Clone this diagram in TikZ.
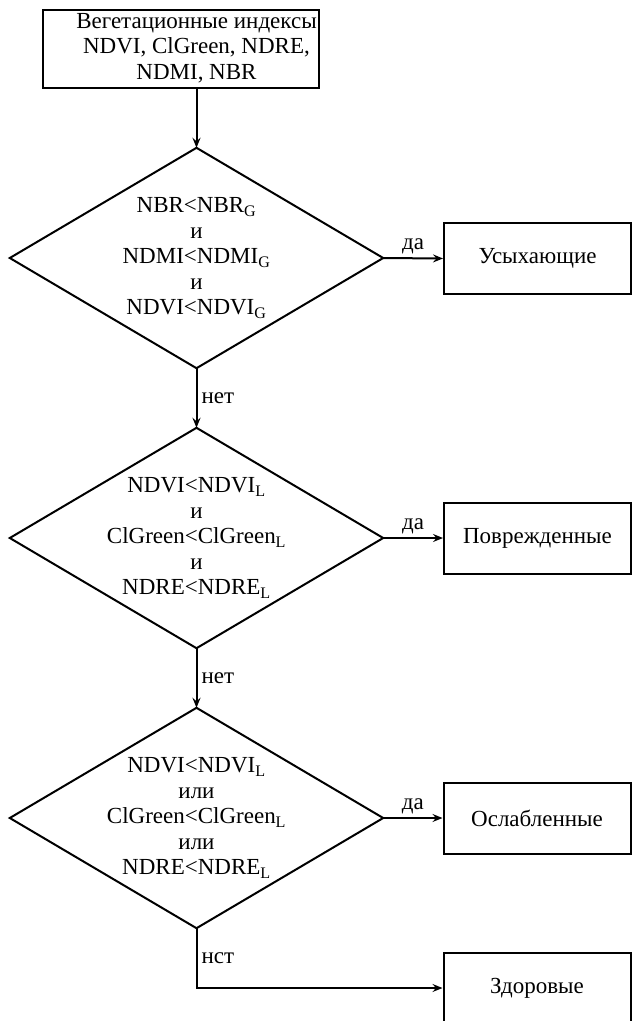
\documentclass[tikz,border=0pt]{standalone}
\usepackage{fontspec}
\setmainfont{Liberation Serif}
\usetikzlibrary{arrows.meta}
\begin{document}
\begin{tikzpicture}[x=1pt,y=-1pt,
 every node/.style={font=\fontsize{23}{25.5}\selectfont},
 box/.style={draw, line width=2pt, inner sep=0pt, align=center},
 res/.style={box, minimum width=187pt, minimum height=71pt},
 cond/.style={inner sep=0pt, align=center, minimum width=373pt, minimum height=220pt},
 lbl/.style={inner sep=0pt},
 conn/.style={line width=2pt, -{Stealth[length=10pt,width=8pt,inset=3.5pt]}},
 edge/.style={line width=2pt}]
\useasboundingbox (0,0) rectangle (632,1021);
\clip (0,0) rectangle (632,1021);

\node[box, minimum width=276pt, minimum height=78pt] (start) at (181,49) {};
\node[lbl, align=center] (starttext) at (196.5,48)
  {Вегетационные индексы\\NDVI, ClGreen, NDRE,\\NDMI, NBR};

\node[cond] (d1) at (196.5,258)
  {NBR<NBR\textsubscript{G}\\и\\NDMI<NDMI\textsubscript{G}\\и\\NDVI<NDVI\textsubscript{G}};
\node[cond] (d2) at (196.5,538)
  {NDVI<NDVI\textsubscript{L}\\и\\ClGreen<ClGreen\textsubscript{L}\\и\\NDRE<NDRE\textsubscript{L}};
\node[cond] (d3) at (196.5,818)
  {NDVI<NDVI\textsubscript{L}\\или\\ClGreen<ClGreen\textsubscript{L}\\или\\NDRE<NDRE\textsubscript{L}};

\foreach \d in {d1,d2,d3}
  \draw[edge] (\d.north) -- (\d.east) -- (\d.south) -- (\d.west) -- cycle;

\node[res] (r1) at (537.5,258.5) {Усыхающие};
\node[res] (r2) at (537.5,538) {Поврежденные};
\node[res] (r3) at (537,818) {Ослабленные};
\node[res] (r4) at (537,988) {Здоровые};

\draw[conn] (d1.north |- start.south) -- (d1.north);
\draw[conn] (d1.east) -- node[lbl, above=3pt] {да} (r1.west);
\draw[conn] (d2.east) -- node[lbl, above=3pt] {да} (r2.west);
\draw[conn] (d3.east) -- node[lbl, above=3pt] {да} (r3.west);
\draw[conn] (d1.south) -- node[lbl, right=4pt] {нет} (d2.north);
\draw[conn] (d2.south) -- node[lbl, right=4pt] {нет} (d3.north);
\coordinate (c) at (196.5,988);
\draw[conn] (d3.south) -- node[lbl, right=4pt] {нст} (c) -- (r4.west);
\end{tikzpicture}
\end{document}
